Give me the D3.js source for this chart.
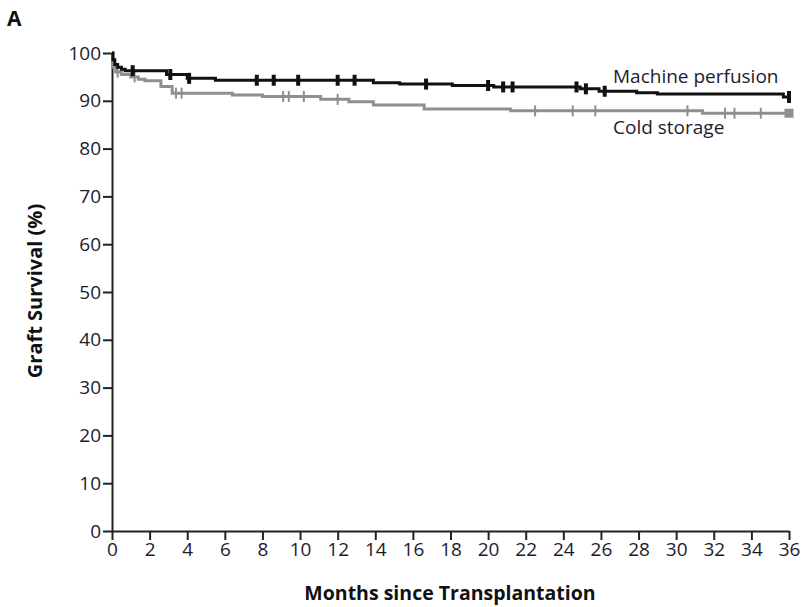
<!DOCTYPE html>
<html>
<head>
<meta charset="utf-8">
<script src="https://cdn.jsdelivr.net/npm/d3@7"></script>
<style>
  body { margin: 0; background: #fff; }
  text { font-family: "Open Sans", sans-serif; }
</style>
</head>
<body>
<div id="root"></div>
<script>
// Size of the chart
const width = 804;
const height = 607;

// Kaplan-Meier steps (months, % surviving)
const mpMonths = [0, 0.05, 0.15, 0.3, 0.5, 0.7, 2.9, 4.0, 5.5, 13.9, 15.3, 18.1, 20.3, 24.9, 25.9, 27.9, 29.0, 35.7, 36];
const mpSurvival = [100, 98.6, 97.6, 97.0, 96.6, 96.3, 95.5, 94.7, 94.3, 93.8, 93.5, 93.2, 92.9, 92.5, 92.0, 91.7, 91.4, 90.8, 90.8];
const mpCensored = [1.1, 3.1, 4.1, 7.7, 8.6, 9.9, 12.0, 12.9, 16.7, 20.0, 20.8, 21.3, 24.7, 25.2, 26.2];

const csMonths = [0, 0.05, 0.2, 0.5, 1.0, 1.4, 1.75, 2.6, 3.2, 6.4, 8.0, 11.1, 12.6, 13.9, 16.6, 21.2, 31.4, 36];
const csSurvival = [100, 97.0, 96.0, 95.5, 95.0, 94.5, 94.2, 93.0, 91.6, 91.2, 90.9, 90.3, 89.8, 89.1, 88.3, 87.9, 87.4, 87.4];
const csCensored = [0.3, 1.2, 3.4, 3.7, 9.1, 9.4, 10.2, 12.0, 22.5, 24.5, 25.7, 30.6, 32.6, 33.1, 34.5];

const xTicks = d3.range(0, 37, 2);
const yTicks = d3.range(0, 101, 10);

const seriesNames = ["Machine perfusion", "Cold storage"];

const svg = d3
  .select("#root")
  .append("svg")
  .attr("width", width)
  .attr("height", height);

// Scales
const xScale = d3.scaleLinear().domain([0, 36]).range([112, 789]);
const yScale = d3.scaleLinear().domain([0, 100]).range([531, 53]);

// Axes
const xAxis = d3.axisBottom(xScale).tickValues(xTicks).tickSize(9).tickSizeOuter(0).tickPadding(3);
const yAxis = d3.axisLeft(yScale).tickValues(yTicks).tickSize(9).tickSizeOuter(0).tickPadding(2);

const gx = svg.append("g")
  .attr("transform", "translate(0," + yScale(0) + ")")
  .call(xAxis);

const gy = svg.append("g")
  .attr("transform", "translate(" + xScale(0) + ",0)")
  .call(yAxis);

[gx, gy].forEach(g => {
  g.select(".domain").attr("stroke", "#222").attr("stroke-width", 2);
  g.selectAll(".tick line").attr("stroke", "#222").attr("stroke-width", 2);
  g.selectAll(".tick text")
    .attr("fill", "#1c1c2c")
    .style("font-size", "19px")
    .style("font-family", "'Open Sans', sans-serif");
});

// Axis titles
svg.append("text")
  .attr("x", 450)
  .attr("y", 600)
  .attr("text-anchor", "middle")
  .style("font-size", "19.5px")
  .style("font-weight", "bold")
  .attr("fill", "#111")
  .text("Months since Transplantation");

svg.append("text")
  .attr("transform", "translate(42,291) rotate(-90)")
  .attr("text-anchor", "middle")
  .style("font-size", "20px")
  .style("font-weight", "bold")
  .attr("fill", "#111")
  .text("Graft Survival (%)");

// Panel letter
svg.append("text")
  .attr("x", 7)
  .attr("y", 26)
  .style("font-size", "21px")
  .style("font-weight", "bold")
  .attr("fill", "#111")
  .text("A");

// Step lines
const line = d3.line()
  .x(d => xScale(d[0]))
  .y(d => yScale(d[1]))
  .curve(d3.curveStepAfter);

// step function lookup for censor marks
function survivalAt(months, survival, t) {
  const i = d3.bisectRight(months, t) - 1;
  return survival[Math.max(0, i)];
}

function createCurve(months, survival, censored, color, markWidth) {
  const pts = months.map((m, i) => [m, survival[i]]);
  svg.append("path")
    .datum(pts)
    .attr("fill", "none")
    .attr("stroke", color)
    .attr("stroke-width", 3)
    .attr("d", line);

  svg.append("g")
    .selectAll("rect")
    .data(censored)
    .enter()
    .append("rect")
    .attr("x", d => xScale(d) - markWidth / 2)
    .attr("y", d => yScale(survivalAt(months, survival, d)) - 5.5)
    .attr("width", markWidth)
    .attr("height", 11)
    .attr("fill", color);
}

createCurve(csMonths, csSurvival, csCensored, "#8f8f8f", 2);
createCurve(mpMonths, mpSurvival, mpCensored, "#111", 4);

// end markers at 36 months
svg.append("rect")
  .attr("x", xScale(36) - 2)
  .attr("y", yScale(mpSurvival[mpSurvival.length - 1]) - 6)
  .attr("width", 4)
  .attr("height", 12)
  .attr("fill", "#111");

svg.append("rect")
  .attr("x", xScale(36) - 4.5)
  .attr("y", yScale(csSurvival[csSurvival.length - 1]) - 4.5)
  .attr("width", 9)
  .attr("height", 9)
  .attr("fill", "#8f8f8f");

// Series labels
svg.append("text")
  .attr("x", 613)
  .attr("y", 83)
  .style("font-size", "19px")
  .attr("fill", "#1c1c2c")
  .text(seriesNames[0]);

svg.append("text")
  .attr("x", 613)
  .attr("y", 134)
  .style("font-size", "19px")
  .attr("fill", "#1c1c2c")
  .text(seriesNames[1]);
</script>
</body>
</html>
